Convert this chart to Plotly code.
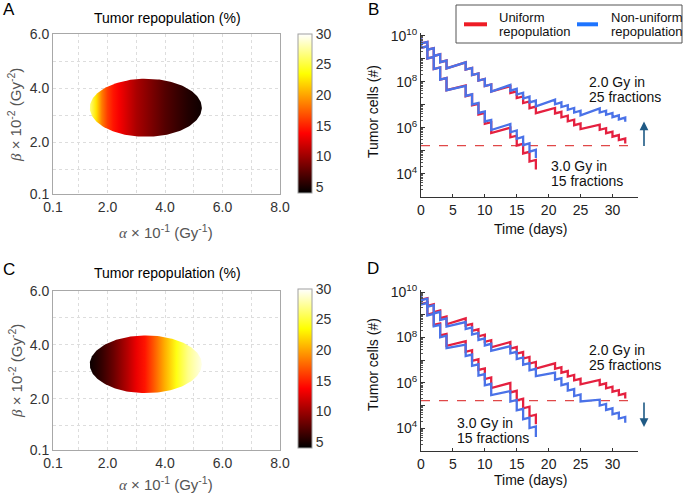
import numpy as np
import plotly.graph_objects as go
from plotly.colors import sample_colorscale

W, H = 685, 497

# ---------------- data ----------------
# Panels A / C : tumor repopulation (%) across alpha (columns of the ellipse)
alpha_pts = [1.4, 1.6, 1.8, 2.0, 2.2, 2.4, 2.7, 3.0, 3.3, 3.6, 4.0, 4.4, 4.8, 5.3]
repop_A = [26.5, 22.5, 18.5, 16.0, 14.5, 13.5, 12.0, 10.5, 9.5, 8.5, 7.2, 6.2, 5.3, 4.5]
repop_C = [4.5, 5.2, 6.0, 7.0, 8.0, 9.2, 11.0, 13.0, 14.5, 17.0, 20.5, 24.0, 27.0, 29.5]
ellipse_center = [3.33, 3.28]      # alpha, beta
ellipse_semi = [1.95, 1.07]
cbar_range = [4, 30]
cbar_ticks = [5, 10, 15, 20, 25, 30]
alpha_ticks = [0.1, 2.0, 4.0, 6.0, 8.0]
alpha_ticktext = ["0.1", "2.0", "4.0", "6.0", "8.0"]
alpha_minor = [1, 3, 5, 7]
beta_ticks = [0.1, 2.0, 4.0, 6.0]
beta_ticktext = ["0.1", "2.0", "4.0", "6.0"]
beta_minor = [1, 3, 5]

# Panels B / D : log10(tumor cells) before (pre) and after (post) each fraction
days_2gy = [0, 1, 2, 3, 4, 7, 8, 9, 10, 11, 14, 15, 16, 17, 18, 21, 22, 23, 24, 25, 28, 29, 30, 31, 32]
days_3gy = [0, 1, 2, 3, 4, 7, 8, 9, 10, 11, 14, 15, 16, 17, 18]

u2_pre = [10.00, 9.73, 9.46, 9.19, 8.92, 8.84, 8.60, 8.36, 8.12, 7.88, 7.80, 7.58, 7.36, 7.14, 6.92,
          6.86, 6.69, 6.52, 6.35, 6.18, 6.13, 5.98, 5.83, 5.68, 5.53]
u2_post = [9.66, 9.39, 9.12, 8.85, 8.58, 8.53, 8.29, 8.05, 7.81, 7.57, 7.51, 7.29, 7.07, 6.85, 6.63,
           6.62, 6.45, 6.28, 6.11, 5.94, 5.91, 5.76, 5.61, 5.46, 5.31]
u3_pre = [10.00, 9.54, 9.08, 8.62, 8.16, 7.84, 7.44, 7.04, 6.64, 6.24, 6.00, 5.65, 5.30, 4.95, 4.60]
u3_post = [9.47, 9.01, 8.55, 8.09, 7.63, 7.37, 6.97, 6.57, 6.17, 5.77, 5.58, 5.23, 4.88, 4.53, 4.18]

nb2_pre = [10.00, 9.73, 9.46, 9.19, 8.92, 8.84, 8.60, 8.36, 8.12, 7.88, 7.86, 7.69, 7.52, 7.35, 7.18,
           7.22, 7.10, 6.98, 6.86, 6.74, 6.84, 6.74, 6.64, 6.54, 6.44]
nb2_post = [9.66, 9.39, 9.12, 8.85, 8.58, 8.53, 8.29, 8.05, 7.81, 7.57, 7.61, 7.44, 7.27, 7.10, 6.93,
            7.02, 6.90, 6.78, 6.66, 6.54, 6.66, 6.56, 6.46, 6.36, 6.26]
nb3_pre = [10.00, 9.54, 9.08, 8.62, 8.16, 7.82, 7.45, 7.08, 6.71, 6.34, 6.16, 5.88, 5.60, 5.32, 5.04]
nb3_post = [9.47, 9.01, 8.55, 8.09, 7.63, 7.38, 7.01, 6.64, 6.27, 5.90, 5.80, 5.52, 5.24, 4.96, 4.68]

nd2_pre = [10.00, 9.71, 9.42, 9.13, 8.84, 8.68, 8.44, 8.20, 7.96, 7.72, 7.62, 7.37, 7.12, 6.87, 6.62,
           6.45, 6.21, 5.97, 5.73, 5.49, 5.26, 5.07, 4.88, 4.69, 4.50]
nd2_post = [9.64, 9.35, 9.06, 8.77, 8.48, 8.37, 8.13, 7.89, 7.65, 7.41, 7.30, 7.05, 6.80, 6.55, 6.30,
            6.14, 5.90, 5.66, 5.42, 5.18, 5.00, 4.81, 4.62, 4.43, 4.24]
nd3_pre = [10.00, 9.52, 9.04, 8.56, 8.08, 7.68, 7.25, 6.82, 6.39, 5.96, 5.64, 5.25, 4.86, 4.47, 4.08]
nd3_post = [9.45, 8.97, 8.49, 8.01, 7.53, 7.18, 6.75, 6.32, 5.89, 5.46, 5.18, 4.79, 4.40, 4.01, 3.62]

threshold_log = 5.22
threshold_days = [0, 33.7]
day_ticks = [0, 5, 10, 15, 20, 25, 30]

# ---------------- styling ----------------
FONT = "Liberation Sans, Arial, Helvetica, sans-serif"
RED = "#e5203f"
BLUE = "#4a72e8"
HOT = [[0.0, "rgb(0,0,0)"], [0.375, "rgb(255,0,0)"], [0.75, "rgb(255,255,0)"], [1.0, "rgb(255,255,255)"]]


def px(x):
    return x / W


def py(y):
    return 1 - y / H


fig = go.Figure()

# ---------- ellipse panels ----------
theta = np.linspace(0, 2 * np.pi, 181)
ex = ellipse_center[0] + ellipse_semi[0] * np.cos(theta)
ey = ellipse_center[1] + ellipse_semi[1] * np.sin(theta)


def grad_scale(values):
    a0, a1 = alpha_pts[0], alpha_pts[-1]
    pos = [(a - a0) / (a1 - a0) for a in alpha_pts]
    t = [(v - cbar_range[0]) / (cbar_range[1] - cbar_range[0]) for v in values]
    cols = sample_colorscale(HOT, t)
    return [[p, c] for p, c in zip(pos, cols)]


for vals, xa, ya, cb_top in [(repop_A, "x", "y", 34), (repop_C, "x3", "y3", 289)]:
    fig.add_trace(go.Scatter(
        x=ex, y=ey, mode="lines", fill="toself", line=dict(width=0),
        fillgradient=dict(type="horizontal", colorscale=grad_scale(vals),
                          start=alpha_pts[0], stop=alpha_pts[-1]),
        xaxis=xa, yaxis=ya, showlegend=False, hoverinfo="skip"))
    fig.add_trace(go.Scatter(
        x=[ellipse_center[0]], y=[ellipse_center[1]], mode="markers",
        marker=dict(size=1, opacity=0, color=[vals[0]], colorscale=HOT,
                    cmin=cbar_range[0], cmax=cbar_range[1], showscale=True,
                    colorbar=dict(x=px(298), xanchor="left", y=py(cb_top), yanchor="top",
                                  len=159, lenmode="pixels", thickness=14, thicknessmode="pixels",
                                  xpad=0, ypad=0, outlinewidth=1, outlinecolor="#a0a0a0",
                                  tickvals=cbar_ticks, ticks="",
                                  tickfont=dict(size=14, color="#333", family=FONT))),
        xaxis=xa, yaxis=ya, showlegend=False, hoverinfo="skip"))


# ---------- tumor cell panels ----------
def staircase(days, pre, post):
    xs, ys = [], []
    for d, a, b in zip(days, pre, post):
        xs += [d, d]
        ys += [10 ** a, 10 ** b]
    return xs, ys


for xa, ya, curves in [
    ("x2", "y2", [(days_2gy, u2_pre, u2_post, RED), (days_3gy, u3_pre, u3_post, RED),
                  (days_2gy, nb2_pre, nb2_post, BLUE), (days_3gy, nb3_pre, nb3_post, BLUE)]),
    ("x4", "y4", [(days_2gy, u2_pre, u2_post, RED), (days_3gy, u3_pre, u3_post, RED),
                  (days_2gy, nd2_pre, nd2_post, BLUE), (days_3gy, nd3_pre, nd3_post, BLUE)]),
]:
    fig.add_trace(go.Scatter(
        x=threshold_days, y=[10 ** threshold_log] * 2, mode="lines",
        line=dict(color="#e04848", width=1.1, dash="dash"),
        xaxis=xa, yaxis=ya, showlegend=False, hoverinfo="skip"))
    for days, pre, post, col in curves:
        xs, ys = staircase(days, pre, post)
        fig.add_trace(go.Scatter(x=xs, y=ys, mode="lines", line=dict(color=col, width=2.3),
                                 xaxis=xa, yaxis=ya, showlegend=False, hoverinfo="skip"))

# ---------- axes ----------
ab_axis = dict(showline=True, mirror=True, linecolor="#a8a8a8", linewidth=1, zeroline=False,
               showgrid=True, gridcolor="#dddddd", griddash="dot", gridwidth=1, ticks="",
               automargin=False, tickfont=dict(size=14, color="#333", family=FONT))

layout_axes = {}
for i, (top, bot) in [(1, (34, 194)), (3, (291, 450))]:
    sx = "" if i == 1 else str(i)
    layout_axes["xaxis" + sx] = dict(
        ab_axis, domain=[px(53), px(280)], range=[0.1, 8.0], anchor="y" + sx,
        tickmode="array", tickvals=alpha_ticks, ticktext=alpha_ticktext,
        minor=dict(tickvals=alpha_minor, showgrid=True, gridcolor="#dddddd", griddash="dot", ticks=""))
    layout_axes["yaxis" + sx] = dict(
        ab_axis, domain=[py(bot), py(top)], range=[0.1, 6.0], anchor="x" + sx,
        tickmode="array", tickvals=beta_ticks, ticktext=beta_ticktext,
        minor=dict(tickvals=beta_minor, showgrid=True, gridcolor="#dddddd", griddash="dot", ticks=""))

log_major = [10 ** k for k in range(3, 11)]
log_text = ["" if k % 2 else "10<sup>%d</sup>" % k for k in range(3, 11)]
log_minor = [m * 10 ** k for k in range(3, 10) for m in range(2, 10)]

for i, (top, bot) in [(2, (33.4, 196.7)), (4, (289.8, 451))]:
    sx = str(i)
    layout_axes["xaxis" + sx] = dict(
        domain=[px(421), px(638)], range=[0, 34], anchor="y" + sx, automargin=False,
        showline=True, linecolor="#333", linewidth=1, zeroline=False, showgrid=False,
        tickmode="array", tickvals=day_ticks, ticks="inside", ticklen=3, tickcolor="#333",
        tickfont=dict(size=14, color="#222", family=FONT))
    layout_axes["yaxis" + sx] = dict(
        type="log", domain=[py(bot), py(top)], range=[3, 10.1], anchor="x" + sx, automargin=False,
        showline=True, linecolor="#333", linewidth=1, zeroline=False, showgrid=False,
        tickmode="array", tickvals=log_major, ticktext=log_text, ticks="inside", ticklen=4,
        tickcolor="#333", tickfont=dict(size=14, color="#222", family=FONT),
        minor=dict(tickvals=log_minor, ticks="inside", ticklen=2, tickcolor="#555", showgrid=False))

# ---------- annotations ----------
ann = []


def text(x, y, s, size=14, color="#111", xanchor="center", angle=0):
    ann.append(dict(x=px(x), y=py(y), xref="paper", yref="paper", text=s, showarrow=False,
                    xanchor=xanchor, yanchor="middle", textangle=angle, align="left",
                    font=dict(size=size, color=color, family=FONT)))


SERIF = "font-family:Liberation Serif, Times New Roman, serif"
alpha_title = ("<span style='%s'><i>α</i></span> × 10<sup>-1</sup> (Gy<sup>-1</sup>)" % SERIF)
beta_title = ("<span style='%s'><i>β</i></span> × 10<sup>-2</sup> (Gy<sup>-2</sup>)" % SERIF)

for letter, lx, ly in [("A", 9, 9), ("B", 373, 9), ("C", 9, 269), ("D", 373, 268)]:
    text(lx, ly, letter, size=17, color="#000")

for ty, xt, yt in [(18.5, 232, 115), (272.5, 483, 371)]:
    text(167, ty, "Tumor repopulation (%)", size=14, color="#000")
    text(166, xt, alpha_title, size=15, color="#555")
    text(15, yt, beta_title, size=15, color="#555", angle=-90)

for xt, yt in [(229, 112), (480, 365)]:
    text(530, xt, "Time (days)", size=14, color="#111")
    text(373, yt, "Tumor cells (#)", size=14, color="#111", angle=-90)

for x, y, s in [(587, 82, "2.0 Gy in"), (587, 97, "25 fractions"),
                (549, 166, "3.0 Gy in"), (549, 181, "15 fractions"),
                (587, 350, "2.0 Gy in"), (587, 365, "25 fractions"),
                (455, 423, "3.0 Gy in"), (455, 438, "15 fractions")]:
    text(x, y, s, size=14, color="#111", xanchor="left")

# legend (panel B)
for x, y, s in [(497, 17, "Uniform"), (497, 32, "repopulation"),
                (609, 17, "Non-uniform"), (609, 32, "repopulation")]:
    text(x, y, s, size=13, color="#111", xanchor="left")

# arrows
ARROW = "#1f5a85"
ann.append(dict(x=px(644), y=py(121.5), xref="paper", yref="paper", ax=0, ay=26, text="",
                showarrow=True, arrowhead=2, arrowsize=1.1, arrowwidth=1.6, arrowcolor=ARROW))
ann.append(dict(x=px(644), y=py(427), xref="paper", yref="paper", ax=0, ay=-26, text="",
                showarrow=True, arrowhead=2, arrowsize=1.1, arrowwidth=1.6, arrowcolor=ARROW))

shapes = [
    dict(type="rect", xref="paper", yref="paper", x0=px(456), x1=px(682), y0=py(43), y1=py(5),
         line=dict(color="#555", width=1), fillcolor="rgba(0,0,0,0)", layer="above"),
    dict(type="line", xref="paper", yref="paper", x0=px(464), x1=px(487), y0=py(24.3), y1=py(24.3),
         line=dict(color="#ee1c25", width=4)),
    dict(type="line", xref="paper", yref="paper", x0=px(577), x1=px(598), y0=py(24.3), y1=py(24.3),
         line=dict(color="#1e74ff", width=4)),
]

fig.update_layout(
    width=W, height=H, margin=dict(l=0, r=0, t=0, b=0, autoexpand=False),
    paper_bgcolor="white", plot_bgcolor="white",
    font=dict(family=FONT, size=14, color="#222"),
    showlegend=False, annotations=ann, shapes=shapes, **layout_axes)

fig.write_html("out.html", config={"displayModeBar": False},
               post_script="document.body.style.margin='0';document.body.style.padding='0';"
                           "document.body.style.overflow='hidden';")
